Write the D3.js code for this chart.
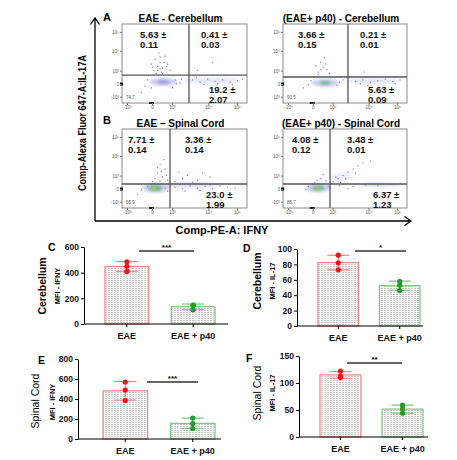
<!DOCTYPE html>
<html>
<head>
<meta charset="utf-8">
<script src="https://cdn.jsdelivr.net/npm/d3@7"></script>
<style>
  body { margin: 0; background: #fff; }
  svg { font-family: "Liberation Sans", Arial, sans-serif; }
</style>
</head>
<body>
<svg id="fig" width="457" height="460"></svg>
<script>
// ---------- flow cytometry panels (A, B) ----------
const flowTitles = ["EAE - Cerebellum", "(EAE+ p40) - Cerebellum", "EAE \u2013 Spinal Cord", "(EAE+ p40) - Spinal Cord"];
const ulMean = ["5.63", "3.66", "7.71", "4.08"];
const ulSd   = ["0.11", "0.15", "0.14", "0.12"];
const urMean = ["0.41", "0.21", "3.36", "3.48"];
const urSd   = ["0.03", "0.01", "0.14", "0.01"];
const lrMean = ["19.2", "5.63", "23.0", "6.37"];
const lrSd   = ["2.07", "0.09", "1.99", "1.23"];
const llPct  = ["74.7", "90.5", "65.9", "85.7"];

// display channels (0-1000) of the biexponential ticks
const flowTickLabels = ["-10\u00b3", "0", "10\u00b3", "10\u2074", "10\u2075"];
const xTickCh = [40, 240, 400, 690, 920];
const yTickCh = [80, 240, 410, 660, 900];

// quadrant gates per panel, in channels
const gateX = [536, 524, 384, 379];
const gateY = [354, 329, 304, 304];

// density blobs: [x, y, rx, ry, kind] in channels
const blobs = [
  [[330, 266, 110, 50, "blue"], [330, 266, 50, 22, "dark"], [720, 285, 230, 30, "light"]],
  [[340, 255, 110, 50, "blue"], [340, 255, 45, 20, "green"], [720, 280, 220, 30, "light"]],
  [[270, 255, 110, 60, "blue"], [265, 250, 55, 32, "green"], [255, 248, 22, 14, "yellow"], [560, 290, 220, 40, "light"]],
  [[285, 255, 100, 55, "blue"], [285, 252, 50, 28, "green"], [280, 250, 20, 13, "yellow"], [470, 390, 90, 50, "faint"], [780, 290, 180, 30, "light"]]
];

// sparse events: [x, y] in channels
const events = [
  [[250,420],[280,470],[300,520],[320,450],[260,560],[340,600],[290,640],[360,500],[230,500],[310,400],[380,420],[270,380],
   [300,440],[330,520],[280,420],[350,470],[240,460],[320,380],[300,590],
   [600,420],[720,520],
   [560,300],[620,270],[680,310],[740,280],[800,300],[860,270],[920,290],[960,310],[650,240],[760,250],[880,240],[590,330],
   [180,220],[420,300],[460,260],[200,300],[150,140],[400,200],[430,250],[230,200],[470,310]],
  [[280,400],[320,460],[300,520],[350,430],[260,480],[330,580],[370,380],[300,430],[340,500],[280,370],
   [650,400],
   [580,280],[640,300],[700,270],[760,290],[820,310],[880,280],[940,300],[620,250],[680,230],[900,250],
   [200,240],[450,270],[480,300],[160,200],[430,230],[220,290]],
  [[300,350],[320,400],[280,450],[340,500],[260,380],[350,420],[300,560],[330,620],[240,340],[360,360],[310,470],[280,520],
   [420,340],[480,380],[520,420],[600,360],[450,460],[700,400],[560,330],[640,450],
   [420,270],[480,250],[540,290],[600,260],[660,280],[720,250],[780,290],[840,270],[900,260],[500,220],[620,230],[700,300],
   [150,240],[200,280],[340,260],[360,220],[120,180]],
  [[250,330],[300,380],[320,430],[270,360],[340,350],
   [400,340],[440,380],[480,420],[520,460],[560,500],[600,540],[640,580],[420,400],[500,380],[460,330],[580,450],[700,600],
   [450,290],[560,280],[660,300],[760,290],[860,310],[940,320],[520,250],
   [180,240],[360,280],[200,280]]
];

// ---------- bar charts (C-F) ----------
const groups = ["EAE", "EAE + p40"];
const cerebIfny  = [[485, 450, 410], [148, 146, 112]];
const cerebIl17  = [[92, 82, 73], [58, 53, 46]];
const spinalIfny = [[570, 490, 385], [210, 155, 105]];
const spinalIl17 = [[122, 110, 113], [59, 52, 44]];
const ifnyTicksC = [0, 200, 400, 600];
const il17TicksD = [0, 20, 40, 60, 80, 100];
const ifnyTicksE = [0, 200, 400, 600, 800];
const il17TicksF = [0, 50, 100, 150];

const svg = d3.select("#fig");
const defs = svg.append("defs");

defs.append("filter").attr("id", "soft")
  .attr("x", "-50%").attr("y", "-50%").attr("width", "200%").attr("height", "200%")
  .append("feGaussianBlur").attr("stdDeviation", 1.4);

const stipple = defs.append("pattern").attr("id", "stipple")
  .attr("patternUnits", "userSpaceOnUse").attr("width", 3).attr("height", 2);
stipple.append("rect").attr("width", 3).attr("height", 2).attr("fill", "#fff");
stipple.append("rect").attr("width", 2).attr("height", 1).attr("fill", "#c4c4c4");

const blobStyle = {
  blue:   { fill: "#6464d8", op: 0.32 },
  dark:   { fill: "#4040c4", op: 0.4 },
  light:  { fill: "#a0a0ee", op: 0.3 },
  faint:  { fill: "#b8b8f2", op: 0.25 },
  green:  { fill: "#2aa84a", op: 0.7 },
  yellow: { fill: "#e8e020", op: 0.85 }
};

// panel frames [left, right, top, bottom]
const frames = [[122, 247, 24, 103], [283, 407, 24, 103], [122, 247, 129, 208], [283, 407, 129, 208]];
// quadrant label offsets (px): ul dx, ur dx, lr dx
const labelDx = [[18, 12, 20], [15, 12, 20], [6, 15, 36], [9, 17, 43]];

frames.forEach(([l, r, t, b], i) => {
  const x = d3.scaleLinear().domain([0, 1000]).range([l, r]);
  const y = d3.scaleLinear().domain([0, 1000]).range([b, t]);
  const g = svg.append("g");

  g.append("text")
    .attr("x", (l + r) / 2 - 4).attr("y", t - 2)
    .attr("text-anchor", "middle")
    .attr("font-size", 10).attr("font-weight", "bold")
    .text(flowTitles[i]);

  // density + events
  const cloud = g.append("g");
  cloud.selectAll("ellipse").data(blobs[i]).join("ellipse")
    .attr("cx", d => x(d[0])).attr("cy", d => y(d[1]))
    .attr("rx", d => x(d[2]) - x(0)).attr("ry", d => y(0) - y(d[3]))
    .attr("fill", d => blobStyle[d[4]].fill)
    .attr("opacity", d => blobStyle[d[4]].op)
    .attr("filter", "url(#soft)");
  cloud.selectAll("rect").data(events[i]).join("rect")
    .attr("x", d => x(d[0])).attr("y", d => y(d[1]))
    .attr("width", 1.2).attr("height", 1.2)
    .attr("fill", "#7a7ae6");

  // frame and gates
  g.append("rect").attr("x", l).attr("y", t).attr("width", r - l).attr("height", b - t)
    .attr("fill", "none").attr("stroke", "#8a8a8a").attr("stroke-width", 1);
  g.append("line").attr("x1", x(gateX[i])).attr("x2", x(gateX[i])).attr("y1", t).attr("y2", b)
    .attr("stroke", "#555").attr("stroke-width", 1.3);
  g.append("line").attr("x1", l).attr("x2", r).attr("y1", y(gateY[i])).attr("y2", y(gateY[i]))
    .attr("stroke", "#555").attr("stroke-width", 1.3);

  // pile-up markers on the axes
  g.append("rect").attr("x", l - 2).attr("y", y(240) - 1.5).attr("width", 3).attr("height", 3).attr("fill", "#000");
  g.append("rect").attr("x", x(240) - 3).attr("y", b - 1).attr("width", 5).attr("height", 2).attr("fill", "#222");

  // tiny ticks
  const ax = g.append("g").attr("transform", `translate(${l},0)`)
    .call(d3.axisLeft(y).tickValues(yTickCh).tickFormat((d, k) => flowTickLabels[k]).tickSize(2).tickPadding(1));
  const bx = g.append("g").attr("transform", `translate(0,${b})`)
    .call(d3.axisBottom(x).tickValues(xTickCh).tickFormat((d, k) => flowTickLabels[k]).tickSize(2).tickPadding(1));
  [ax, bx].forEach(a => {
    a.select(".domain").remove();
    a.selectAll("line").attr("stroke", "#777");
    a.selectAll("text").attr("font-size", 4.5).attr("fill", "#555");
  });

  // quadrant statistics
  const q = g.append("g").attr("font-size", 9.5).attr("font-weight", "bold").attr("fill", "#111");
  const two = (px, py, a, s) => {
    q.append("text").attr("x", px).attr("y", py).text(a + " \u00b1");
    q.append("text").attr("x", px).attr("y", py + 10).text(s);
  };
  two(l + labelDx[i][0], t + 14, ulMean[i], ulSd[i]);
  two(x(gateX[i]) + labelDx[i][1], t + 14, urMean[i], urSd[i]);
  two(x(gateX[i]) + labelDx[i][2], b - 10, lrMean[i], lrSd[i]);
  g.append("text").attr("x", l + 4).attr("y", b - 4)
    .attr("font-size", 4.5).attr("fill", "#555").text(llPct[i]);
});

// panel letters and shared axes
svg.append("text").attr("x", 103).attr("y", 21).attr("font-size", 11).attr("font-weight", "bold").text("A");
svg.append("text").attr("x", 103).attr("y", 124).attr("font-size", 11).attr("font-weight", "bold").text("B");

svg.append("path").attr("d", "M95,221V18M90.5,24.5L95,18L99.5,24.5")
  .attr("fill", "none").attr("stroke", "#000").attr("stroke-width", 1.3);
svg.append("path").attr("d", "M95,221H411M404.5,216.5L411,221L404.5,225.5")
  .attr("fill", "none").attr("stroke", "#000").attr("stroke-width", 1.3);

svg.append("text").attr("x", 222).attr("y", 234).attr("text-anchor", "middle")
  .attr("font-size", 11).attr("font-weight", "bold").text("Comp-PE-A: IFNY");
svg.append("text").attr("transform", "translate(82,123) rotate(-90)")
  .attr("text-anchor", "middle").attr("dy", "0.35em")
  .attr("font-size", 10.5).attr("font-weight", "bold")
  .attr("textLength", 136).attr("lengthAdjust", "spacingAndGlyphs")
  .text("Comp-Alexa Fluor 647-A:IL-17A");

// ---------- bar chart builder ----------
const barStroke = ["#f4827f", "#7dc383"];
const dotFill = ["#f01414", "#249a2a"];

function barPanel(c) {
  const y = d3.scaleLinear().domain([0, c.max]).range([c.y0, c.y1]);
  const x = d3.scaleBand().domain(groups).range([c.b0, c.b1]).paddingInner(0.34);
  const g = svg.append("g");
  const stats = c.values.map((v, k) => ({ k, v, m: d3.mean(v), sd: d3.deviation(v) }));

  g.selectAll(".bar").data(stats).join("rect")
    .attr("x", d => x(groups[d.k])).attr("width", x.bandwidth())
    .attr("y", d => y(d.m)).attr("height", d => y(0) - y(d.m))
    .attr("fill", "url(#stipple)")
    .attr("stroke", d => barStroke[d.k]).attr("stroke-width", 1.2);

  stats.forEach(d => {
    const cx = x(groups[d.k]) + x.bandwidth() / 2;
    const col = barStroke[d.k];
    g.append("line").attr("x1", cx).attr("x2", cx).attr("y1", y(d.m + d.sd)).attr("y2", y(d.m - d.sd))
      .attr("stroke", col).attr("stroke-width", 1.2);
    [d.m + d.sd, d.m - d.sd].forEach(e => {
      g.append("line").attr("x1", cx - 11).attr("x2", cx + 11).attr("y1", y(e)).attr("y2", y(e))
        .attr("stroke", col).attr("stroke-width", 1.2);
    });
    g.selectAll(null).data(d.v).join("circle")
      .attr("cx", cx).attr("cy", v => y(v)).attr("r", 2.6)
      .attr("fill", dotFill[d.k]);
  });

  // axes
  const ya = g.append("g").attr("transform", `translate(${c.ax},0)`)
    .call(d3.axisLeft(y).tickValues(c.ticks).tickSize(3).tickSizeOuter(0).tickPadding(2));
  ya.select(".domain").attr("stroke", "#000");
  const xa = g.append("g").attr("transform", `translate(0,${c.y0})`)
    .call(d3.axisBottom(x).tickSize(3).tickPadding(6));
  xa.select(".domain").remove();
  g.append("line").attr("x1", c.ax).attr("x2", c.xEnd).attr("y1", c.y0).attr("y2", c.y0)
    .attr("stroke", "#000").attr("stroke-width", 1);
  [ya, xa].forEach(a => a.selectAll("text")
    .attr("font-family", "Liberation Sans, Arial, sans-serif")
    .attr("font-weight", "bold").attr("fill", "#111"));
  ya.selectAll("text").attr("font-size", 8.5);
  xa.selectAll("text").attr("font-size", 9);

  // significance
  g.append("line").attr("x1", c.sig[0]).attr("x2", c.sig[1]).attr("y1", c.sig[2]).attr("y2", c.sig[2])
    .attr("stroke", "#333").attr("stroke-width", 1.3);
  g.append("text").attr("x", (c.sig[0] + c.sig[1]) / 2).attr("y", c.sig[2] - 1)
    .attr("text-anchor", "middle").attr("font-size", 8).attr("font-weight", "bold").text(c.stars);

  // titles
  g.append("text").attr("x", c.letter[0]).attr("y", c.letter[1])
    .attr("font-size", 10.5).attr("font-weight", "bold").text(c.name);
  g.append("text").attr("transform", `translate(${c.t1[0]},${c.t1[1]}) rotate(-90)`)
    .attr("text-anchor", "middle").attr("dy", "0.35em")
    .attr("font-size", 10.5).attr("font-weight", c.boldTissue ? "bold" : "normal").text(c.tissue);
  g.append("text").attr("transform", `translate(${c.t2[0]},${c.t2[1]}) rotate(-90)`)
    .attr("text-anchor", "middle").attr("dy", "0.35em")
    .attr("font-size", 7.5).attr("font-weight", "bold").text(c.measure);
}

barPanel({ name: "C", values: cerebIfny, max: 600, ticks: ifnyTicksC, stars: "***",
  ax: 84, y0: 324, y1: 247, b0: 105, b1: 215, xEnd: 228, sig: [139, 194, 251],
  letter: [48, 251], t1: [42, 286], t2: [57, 286], tissue: "Cerebellum", boldTissue: true, measure: "MFI - IFNY" });
barPanel({ name: "D", values: cerebIl17, max: 100, ticks: il17TicksD, stars: "*",
  ax: 297, y0: 326, y1: 249, b0: 318, b1: 420, xEnd: 423, sig: [355, 406, 251],
  letter: [243, 252], t1: [257, 281], t2: [272, 281], tissue: "Cerebellum", boldTissue: true, measure: "MFI - IL-17" });
barPanel({ name: "E", values: spinalIfny, max: 800, ticks: ifnyTicksE, stars: "***",
  ax: 78, y0: 439, y1: 359, b0: 103, b1: 215, xEnd: 221, sig: [147, 198, 382],
  letter: [38, 364], t1: [35, 401], t2: [52, 402], tissue: "Spinal Cord", boldTissue: false, measure: "MFI - IFNY" });
barPanel({ name: "F", values: spinalIl17, max: 150, ticks: il17TicksF, stars: "**",
  ax: 299, y0: 437, y1: 356, b0: 320, b1: 423, xEnd: 428, sig: [347, 402, 363],
  letter: [246, 362], t1: [257, 393], t2: [272, 393], tissue: "Spinal Cord", boldTissue: false, measure: "MFI - IL-17" });
</script>
</body>
</html>
